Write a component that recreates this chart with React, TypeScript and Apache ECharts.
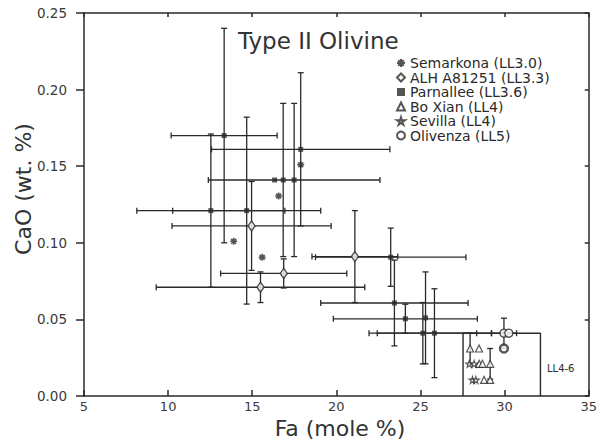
import React, { useEffect, useRef } from "react";
import * as echarts from "echarts";

// Fa (mole %), CaO (wt. %) — free points without error bars
const semarkonaPts: number[][] = [
  [13.9, 0.101],
  [15.59, 0.0905],
  [16.57, 0.1305],
  [17.88, 0.151],
];
// [Fa, CaO, ±Fa, ±CaO]
const parnalleePts: number[][] = [
  [13.33, 0.17, 3.15, 0.07],
  [12.54, 0.121, 4.4, 0.05],
  [14.67, 0.121, 4.4, 0.061],
  [17.88, 0.161, 5.3, 0.05],
  [16.33, 0.141, 0, 0],
  [16.84, 0.141, 0, 0.05],
  [17.49, 0.141, 5.1, 0.05],
  [23.23, 0.0906, 4.47, 0.019],
  [23.45, 0.0607, 4.38, 0.028],
  [24.1, 0.0504, 4.28, 0.0095],
  [25.3, 0.051, 0, 0.03],
  [25.14, 0.041, 3.2, 0.02],
  [25.83, 0.041, 3.4, 0.029],
];
const alhPts: number[][] = [
  [14.96, 0.111, 4.73, 0.029],
  [16.87, 0.08, 3.75, 0.0095],
  [15.49, 0.071, 6.2, 0.01],
  [21.1, 0.091, 2.55, 0.03],
];
const boXianPts: number[][] = [
  [27.95, 0.031, 0, 0.01],
  [28.48, 0.031, 0, 0],
  [28.49, 0.021, 0, 0],
  [28.68, 0.021, 0, 0],
  [29.14, 0.021, 0, 0.01],
  [28.78, 0.0105, 0, 0],
  [29.14, 0.0105, 0, 0],
];
const sevillaPts: number[][] = [
  [27.9, 0.021],
  [28.19, 0.021],
  [28.09, 0.0105],
  [28.29, 0.0105],
];
const olivenzaPts: number[][] = [
  [29.96, 0.041, 0.75, 0.0098],
  [30.25, 0.041, 0, 0],
  [29.96, 0.031, 0, 0],
];
const boxX = [27.53, 27.53, 32.13, 32.13];
const boxY = [0, 0.041, 0.041, 0];
const boxLabel = "LL4-6";

const seriesNames = [
  "Semarkona (LL3.0)",
  "ALH A81251 (LL3.3)",
  "Parnallee (LL3.6)",
  "Bo Xian (LL4)",
  "Sevilla (LL4)",
  "Olivenza (LL5)",
];
const xTickLabels = ["5", "10", "15", "20", "25", "30", "35"];
const yTickLabels = ["0.00", "0.05", "0.10", "0.15", "0.20", "0.25"];
const titleText = "Type II Olivine";
const xName = "Fa (mole %)";
const yName = "CaO (wt. %)";

const INK = "#2a2a2a";
const FONT = "DejaVu Sans";

const asterisk =
  "path://M5,0L5,10M0,5L10,5M1.5,1.5L8.5,8.5M8.5,1.5L1.5,8.5";
const star =
  "path://M50,0L61,35L98,35L68,57L79,91L50,70L21,91L32,57L2,35L39,35Z";

export default function App() {
  const ref = useRef<HTMLDivElement>(null);
  useEffect(() => {
    if (!ref.current) return;
    const chart = echarts.init(ref.current, undefined, { renderer: "svg" });
    const errRows = [...parnalleePts, ...alhPts, ...boXianPts, ...olivenzaPts].filter(
      (r) => r[2] > 0 || r[3] > 0
    );
    const lineStyle = { color: INK, width: 1.5 };
    const option: any = {
      animation: false,
      backgroundColor: "#fff",
      grid: { left: 84, right: 7, top: 13, bottom: 49 },
      xAxis: [
        {
          type: "value",
          min: 5,
          max: 35,
          interval: 5,
          position: "bottom",
          axisLine: { onZero: false, lineStyle },
          axisTick: { inside: true, length: 6, lineStyle },
          axisLabel: {
            fontSize: 13,
            fontFamily: FONT,
            color: "#3a3a3a",
            margin: 4,
            formatter: (v: number) => xTickLabels[Math.round((v - 5) / 5)],
          },
          splitLine: { show: false },
        },
        {
          type: "value",
          min: 5,
          max: 35,
          interval: 5,
          position: "top",
          axisLine: { onZero: false, lineStyle },
          axisTick: { inside: true, length: 4, lineStyle },
          axisLabel: { show: false },
          splitLine: { show: false },
        },
      ],
      yAxis: [
        {
          type: "value",
          min: 0,
          max: 0.25,
          interval: 0.05,
          position: "left",
          axisLine: { onZero: false, lineStyle },
          axisTick: { inside: false, length: 8, lineStyle },
          axisLabel: {
            fontSize: 13.5,
            fontFamily: FONT,
            color: "#3a3a3a",
            margin: 17,
            formatter: (v: number) => yTickLabels[Math.round(v / 0.05)],
          },
          splitLine: { show: false },
        },
        {
          type: "value",
          min: 0,
          max: 0.25,
          interval: 0.05,
          position: "right",
          axisLine: { onZero: false, lineStyle },
          axisTick: { inside: true, length: 4, lineStyle },
          axisLabel: { show: false },
          splitLine: { show: false },
        },
      ],
      legend: {
        data: seriesNames,
        orient: "vertical",
        left: 396,
        top: 56,
        padding: 0,
        itemGap: 0.5,
        itemWidth: 8,
        itemHeight: 8,
        textStyle: { fontSize: 14, fontFamily: FONT, color: INK, lineHeight: 14 },
      },
      graphic: [
        {
          type: "text",
          left: 238,
          top: 29,
          style: { text: titleText, fontSize: 23, fontFamily: FONT, fill: "#333" },
        },
        {
          type: "text",
          x: 340,
          y: 428,
          style: {
            text: xName,
            fontSize: 22,
            fontFamily: FONT,
            fill: "#333",
            align: "center",
            verticalAlign: "middle",
          },
        },
        {
          type: "text",
          x: 23,
          y: 189,
          rotation: Math.PI / 2,
          style: {
            text: yName,
            fontSize: 22,
            fontFamily: FONT,
            fill: "#333",
            align: "center",
            verticalAlign: "middle",
          },
        },
        {
          type: "text",
          left: 547,
          top: 363,
          style: { text: boxLabel, fontSize: 10, fontFamily: FONT, fill: INK },
        },
      ],
      series: [
        {
          type: "line",
          name: "box",
          data: boxX.map((x, i) => [x, boxY[i]]),
          symbol: "none",
          lineStyle: { color: INK, width: 1.4 },
          silent: true,
        },
        {
          type: "custom",
          name: "errors",
          data: errRows,
          encode: { x: 0, y: 1 },
          renderItem: (_p: any, api: any) => {
            const x = api.value(0);
            const y = api.value(1);
            const xe = api.value(2);
            const ye = api.value(3);
            const cap = 3;
            const st = { stroke: INK, lineWidth: 1.3 };
            const ch: any[] = [];
            if (xe > 0) {
              const l = api.coord([x - xe, y]);
              const r = api.coord([x + xe, y]);
              ch.push({ type: "line", shape: { x1: l[0], y1: l[1], x2: r[0], y2: r[1] }, style: st });
              ch.push({ type: "line", shape: { x1: l[0], y1: l[1] - cap, x2: l[0], y2: l[1] + cap }, style: st });
              ch.push({ type: "line", shape: { x1: r[0], y1: r[1] - cap, x2: r[0], y2: r[1] + cap }, style: st });
            }
            if (ye > 0) {
              const t = api.coord([x, y + ye]);
              const b = api.coord([x, y - ye]);
              ch.push({ type: "line", shape: { x1: t[0], y1: t[1], x2: b[0], y2: b[1] }, style: st });
              ch.push({ type: "line", shape: { x1: t[0] - cap, y1: t[1], x2: t[0] + cap, y2: t[1] }, style: st });
              ch.push({ type: "line", shape: { x1: b[0] - cap, y1: b[1], x2: b[0] + cap, y2: b[1] }, style: st });
            }
            return { type: "group", children: ch };
          },
          silent: true,
          z: 2,
        },
        {
          type: "scatter",
          name: seriesNames[0],
          data: semarkonaPts.map((r) => [r[0], r[1]]),
          symbol: asterisk,
          symbolSize: 7,
          itemStyle: { color: INK, borderColor: INK, borderWidth: 1.6 },
          z: 3,
        },
        {
          type: "scatter",
          name: seriesNames[1],
          data: alhPts.map((r) => [r[0], r[1]]),
          symbol: "diamond",
          symbolSize: [7, 10],
          itemStyle: { color: "#fff", borderColor: INK, borderWidth: 1.5 },
          z: 3,
        },
        {
          type: "scatter",
          name: seriesNames[2],
          data: parnalleePts.map((r) => [r[0], r[1]]),
          symbol: "rect",
          symbolSize: 5,
          itemStyle: { color: INK },
          z: 3,
        },
        {
          type: "scatter",
          name: seriesNames[3],
          data: boXianPts.map((r) => [r[0], r[1]]),
          symbol: "triangle",
          symbolSize: 7,
          itemStyle: { color: "#fff", borderColor: INK, borderWidth: 1.2 },
          z: 3,
        },
        {
          type: "scatter",
          name: seriesNames[4],
          data: sevillaPts.map((r) => [r[0], r[1]]),
          symbol: star,
          symbolSize: 7,
          itemStyle: { color: "#fff", borderColor: INK, borderWidth: 1.1 },
          z: 3,
        },
        {
          type: "scatter",
          name: seriesNames[5],
          data: olivenzaPts.map((r, i) =>
            i === 2
              ? { value: [r[0], r[1]], itemStyle: { borderWidth: 2.4 } }
              : [r[0], r[1]]
          ),
          symbol: "circle",
          symbolSize: 8,
          itemStyle: { color: "#fff", borderColor: INK, borderWidth: 1.4 },
          z: 3,
        },
      ],
    };
    chart.setOption(option);
    return () => chart.dispose();
  }, []);
  return <div ref={ref} style={{ width: 600, height: 445, position: "absolute", left: 0, top: 0 }} />;
}
